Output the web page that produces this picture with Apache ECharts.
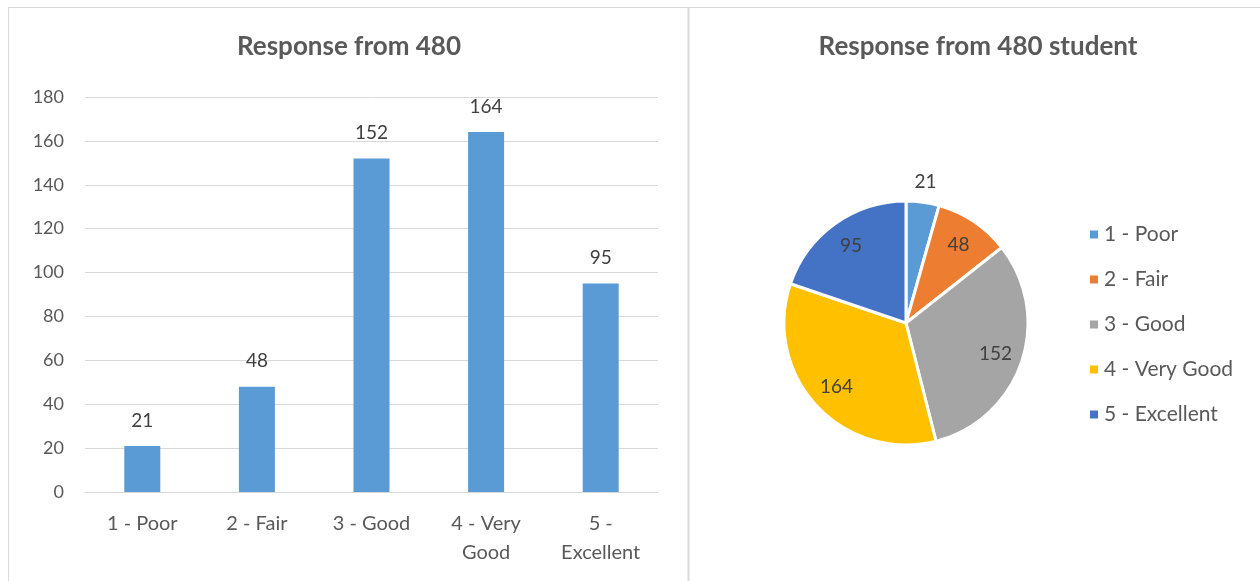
<!DOCTYPE html>
<html><head><meta charset="utf-8">
<script src="https://cdn.jsdelivr.net/npm/echarts@6/dist/echarts.min.js"></script>
<style>html,body{margin:0;padding:0;background:#fff}#c{width:1260px;height:581px}</style>
</head><body><div id="c"></div>
<script>
const categories = ['1 - Poor', '2 - Fair', '3 - Good', '4 - Very Good', '5 - Excellent'];
const axisLabels = ['1 - Poor', '2 - Fair', '3 - Good', '4 - Very\nGood', '5 -\nExcellent'];
const values = [21, 48, 152, 164, 95];
const pieColors = ['#5B9BD5', '#ED7D31', '#A5A5A5', '#FFC000', '#4472C4'];
const barTitle = 'Response from 480';
const pieTitle = 'Response from 480 student';

const FONT = 'Lato';
const chart = echarts.init(document.getElementById('c'), null, {renderer: 'canvas'});
const pieCenter = [906, 323];
const R = 122;
const pieData = categories.map((c, i) => ({name: c, value: values[i], itemStyle: {color: pieColors[i]}}));

chart.setOption({
  animation: false,
  textStyle: {fontFamily: FONT},
  title: [
    {text: barTitle, left: 349, top: 34, textAlign: 'center', padding: 0,
     textStyle: {fontFamily: FONT, fontSize: 26, fontWeight: 'bold', color: '#595959'}},
    {text: pieTitle, left: 978, top: 34, textAlign: 'center', padding: 0,
     textStyle: {fontFamily: FONT, fontSize: 26, fontWeight: 'bold', color: '#595959'}}
  ],
  graphic: [
    {type: 'line', shape: {x1: 8, y1: 7.5, x2: 1260, y2: 7.5}, style: {stroke: '#d9d9d9', lineWidth: 1}},
    {type: 'line', shape: {x1: 8.5, y1: 7, x2: 8.5, y2: 581}, style: {stroke: '#d9d9d9', lineWidth: 1}},
    {type: 'line', shape: {x1: 688.5, y1: 7, x2: 688.5, y2: 581}, style: {stroke: '#d9d9d9', lineWidth: 2}}
  ],
  grid: {left: 85, top: 97, width: 573, height: 395, containLabel: false},
  xAxis: {
    type: 'category', data: axisLabels,
    axisLine: {lineStyle: {color: '#d9d9d9', width: 1}},
    axisTick: {show: false},
    axisLabel: {color: '#595959', fontSize: 20, margin: 17, lineHeight: 29, interval: 0, fontFamily: FONT}
  },
  yAxis: {
    type: 'value', min: 0, max: 180, interval: 20,
    axisLine: {show: false}, axisTick: {show: false},
    splitLine: {lineStyle: {color: '#d9d9d9', width: 1}},
    axisLabel: {color: '#595959', fontSize: 18, margin: 21, fontFamily: FONT}
  },
  legend: {
    orient: 'vertical', left: 1088, top: 224, itemGap: 24, padding: 0,
    itemWidth: 10, itemHeight: 10, icon: 'rect',
    textStyle: {color: '#595959', fontSize: 21, fontFamily: FONT},
    data: categories
  },
  series: [
    {type: 'bar', data: values, barWidth: 36,
     itemStyle: {color: '#5B9BD5'},
     label: {show: true, position: 'top', distance: 16, color: '#404040', fontSize: 19, fontFamily: FONT}},
    {type: 'pie', center: pieCenter, radius: [0, R], startAngle: 90, clockwise: true,
     data: pieData, label: {show: false}, labelLine: {show: false},
     itemStyle: {borderColor: '#fff', borderWidth: 3}},
    {type: 'pie', center: pieCenter, radius: [R * 0.5, R], startAngle: 90, clockwise: true, silent: true,
     legendHoverLink: false,
     data: values.map((v, i) => ({name: categories[i], value: v, itemStyle: {color: 'rgba(0,0,0,0)'},
        label: {show: i !== 0}})),
     label: {position: 'inside', formatter: '{c}', color: '#404040', fontSize: 19, fontFamily: FONT},
     labelLine: {show: false}},
    {type: 'pie', center: pieCenter, radius: [R + 2, R + 32], startAngle: 90, clockwise: true, silent: true,
     legendHoverLink: false,
     data: values.map((v, i) => ({name: categories[i], value: v, itemStyle: {color: 'rgba(0,0,0,0)'},
        label: {show: i === 0}})),
     label: {position: 'inside', formatter: '{c}', color: '#404040', fontSize: 19, fontFamily: FONT},
     labelLine: {show: false}}
  ]
});
</script></body></html>
